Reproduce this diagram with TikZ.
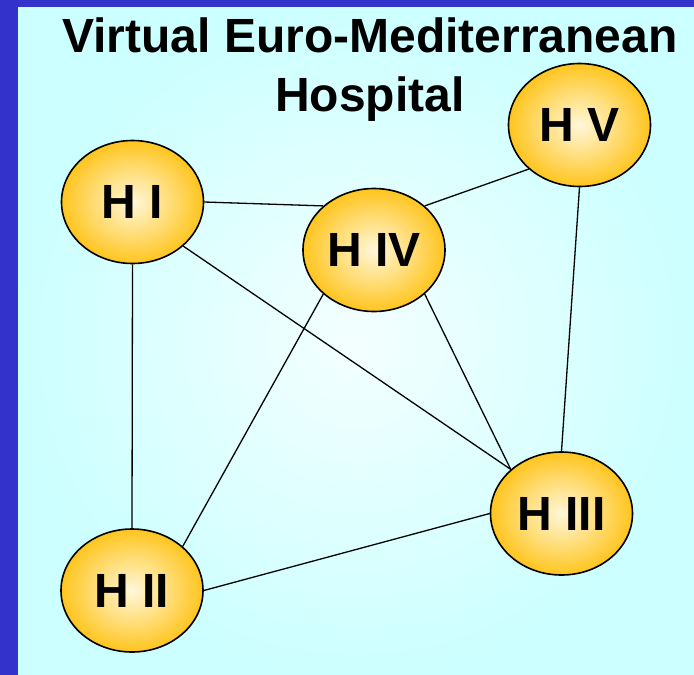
\documentclass[tikz,border=0pt]{standalone}
\usepackage{fontspec}
\setmainfont{Liberation Sans}
\usetikzlibrary{shapes.geometric}
\definecolor{frameblue}{RGB}{51,51,204}
\definecolor{bgcyan}{RGB}{204,255,255}
\definecolor{bgcenter}{RGB}{244,255,255}
\definecolor{hosout}{RGB}{255,197,30}
\definecolor{hosin}{RGB}{255,247,218}
\begin{document}
\begin{tikzpicture}[x=1pt,y=-1pt,
  hosp/.style={ellipse, draw=black, line width=1.6pt, inner sep=0pt,
    minimum width=142pt, minimum height=123pt,
    inner color=hosin, outer color=hosout,
    font=\fontsize{48}{48}\selectfont\bfseries},
  titletext/.style={anchor=base, inner sep=0pt, font=\fontsize{48}{58}\selectfont\bfseries},
  link/.style={line width=1.3pt, draw=black}]
\useasboundingbox (0,0) rectangle (694,675);
\fill[frameblue] (0,0) rectangle (694,675);
\shade[inner color=bgcenter, outer color=bgcyan] (18,7) rectangle (694,675);

\node[titletext] (t1) at (370,52) {Virtual Euro-Mediterranean};
\node[titletext] (t2) at (370,111) {Hospital};

\node[hosp] (h1) at (132.5,202) {H I};
\node[hosp] (h4) at (374,250) {H IV};
\node[hosp] (h5) at (579.5,125) {H V};
\node[hosp] (h3) at (561.5,513.5) {H III};
\node[hosp] (h2) at (132,590.5) {H II};

\draw[link] (h1.east) -- (h4.139);
\draw[link] (h4.41) -- (h5.221);
\draw[link] (h1.319) -- (h3.139);
\draw[link] (h1.south) -- (h2.north);
\draw[link] (h4.221) -- (h2.41);
\draw[link] (h4.319) -- (h3.139);
\draw[link] (h5.south) -- (h3.north);
\draw[link] (h2.east) -- (h3.west);
\end{tikzpicture}
\end{document}
